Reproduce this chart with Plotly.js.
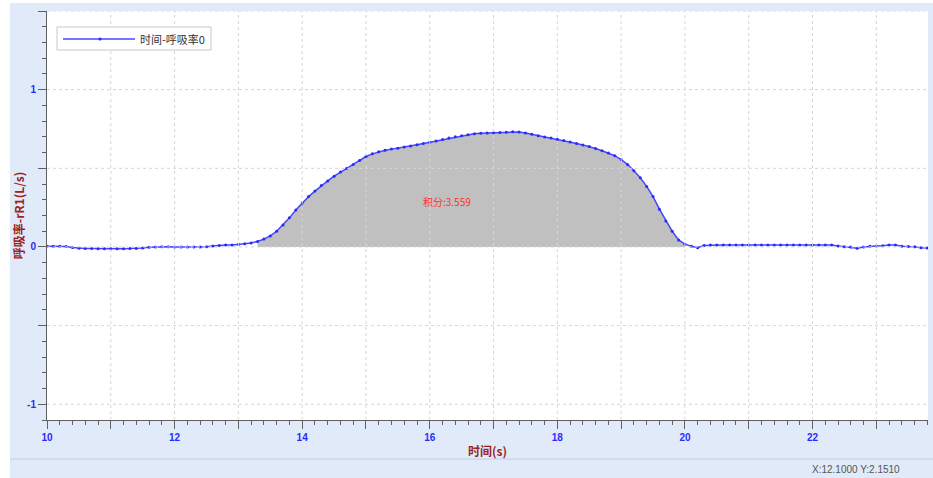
<!DOCTYPE html>
<html>
<head>
<meta charset="utf-8">
<script src="https://cdn.plot.ly/plotly-3.0.1.min.js"></script>
<style>
  html, body { margin: 0; padding: 0; background: #ffffff; }
  #chart { position: absolute; left: 10px; top: 3px; width: 923px; height: 475px; }
</style>
</head>
<body>
<div id="chart"></div>
<script>
// ---- data (time in s, rate in L/s), sampled every 0.1 s ----
const timeS = [
  10.0,10.1,10.2,10.3,10.4,10.5,10.6,10.7,10.8,10.9,
  11.0,11.1,11.2,11.3,11.4,11.5,11.6,11.7,11.8,11.9,
  12.0,12.1,12.2,12.3,12.4,12.5,12.6,12.7,12.8,12.9,
  13.0,13.1,13.2,13.3,13.4,13.5,13.6,13.7,13.8,13.9,
  14.0,14.1,14.2,14.3,14.4,14.5,14.6,14.7,14.8,14.9,
  15.0,15.1,15.2,15.3,15.4,15.5,15.6,15.7,15.8,15.9,
  16.0,16.1,16.2,16.3,16.4,16.5,16.6,16.7,16.8,16.9,
  17.0,17.1,17.2,17.3,17.4,17.5,17.6,17.7,17.8,17.9,
  18.0,18.1,18.2,18.3,18.4,18.5,18.6,18.7,18.8,18.9,
  19.0,19.1,19.2,19.3,19.4,19.5,19.6,19.7,19.8,19.9,
  20.0,20.1,20.2,20.3,20.4,20.5,20.6,20.7,20.8,20.9,
  21.0,21.1,21.2,21.3,21.4,21.5,21.6,21.7,21.8,21.9,
  22.0,22.1,22.2,22.3,22.4,22.5,22.6,22.7,22.8,22.9,
  23.0,23.1,23.2,23.3,23.4,23.5,23.6,23.7,23.8
];
const rateR1 = [
  0.005,0.005,0.005,0.003,-0.003,-0.008,-0.010,-0.010,-0.011,-0.011,
  -0.011,-0.011,-0.011,-0.010,-0.010,-0.006,-0.002,0.000,0.001,0.001,
  0.000,0.000,0.000,0.000,0.000,0.002,0.006,0.010,0.012,0.013,
  0.015,0.020,0.025,0.035,0.050,0.070,0.100,0.140,0.185,0.235,
  0.280,0.320,0.355,0.390,0.420,0.450,0.477,0.500,0.525,0.550,
  0.575,0.592,0.605,0.615,0.622,0.628,0.635,0.642,0.650,0.658,
  0.666,0.674,0.683,0.692,0.700,0.707,0.714,0.720,0.723,0.725,
  0.726,0.727,0.730,0.732,0.731,0.724,0.716,0.707,0.699,0.692,
  0.685,0.676,0.667,0.658,0.648,0.638,0.626,0.612,0.598,0.580,
  0.555,0.525,0.485,0.440,0.385,0.320,0.240,0.165,0.100,0.045,
  0.018,0.005,-0.005,0.010,0.012,0.013,0.013,0.013,0.013,0.013,
  0.013,0.013,0.013,0.013,0.013,0.013,0.013,0.013,0.013,0.013,
  0.013,0.013,0.013,0.013,0.006,0.002,0.000,-0.008,0.000,0.005,
  0.006,0.008,0.013,0.012,0.005,0.003,0.002,-0.005,-0.006
];
const integralStart = 13.3;
const integralEnd = 20.0;
const integralLabel = '积分:3.559';
const seriesName = '时间-呼吸率0';
const xTickVals = [10,11,12,13,14,15,16,17,18,19,20,21,22,23];
const xTickText = ['10','','12','','14','','16','','18','','20','','22',''];
const yTickVals = [-1,-0.5,0,0.5,1,1.5];
const yTickText = ['-1','','0','','1',''];
const statusText = 'X:12.1000 Y:2.1510';

// ---- build ----
const fillX = [], fillY = [];
timeS.forEach((t, i) => {
  if (t >= integralStart - 1e-9 && t <= integralEnd + 1e-9) { fillX.push(t); fillY.push(rateR1[i]); }
});

const xRange = [10, 23.81];
const yRange = [-1.1, 1.5];
const lineColor = '#4646ff';
const markerColor = '#2a2aff';

const traces = [
  { x: fillX, y: fillY, type: 'scatter', mode: 'lines', fill: 'tozeroy',
    fillcolor: '#c0c0c0', line: { width: 0, color: 'rgba(0,0,0,0)' }, showlegend: false, hoverinfo: 'skip' },
  { x: timeS, y: rateR1, type: 'scatter', mode: 'lines+markers', name: seriesName, showlegend: false,
    line: { color: lineColor, width: 1.5 }, marker: { color: markerColor, size: 3 } }
];

const shapes = [];
const gridStyle = { color: '#d6d6d6', width: 1, dash: '3px,3px' };
xTickVals.forEach(v => {
  if (v > xRange[0]) shapes.push({ type: 'line', layer: 'above', xref: 'x', yref: 'paper', x0: v, x1: v, y0: 0, y1: 1, line: gridStyle });
});
yTickVals.forEach(v => {
  shapes.push({ type: 'line', layer: 'above', xref: 'paper', yref: 'y', x0: 0, x1: 1, y0: v, y1: v, line: gridStyle });
});
// status bar separator
shapes.push({ type: 'line', layer: 'above', xref: 'paper', yref: 'paper', x0: -0.05, x1: 1.01, y0: -0.0954, y1: -0.0954,
  line: { color: '#c4cede', width: 1 } });
// legend box (drawn manually to match the long line sample)
const legY = 0.9315;
shapes.push({ type: 'rect', layer: 'above', xref: 'paper', yref: 'paper', x0: 0.0114, x1: 0.1862, y0: 0.9046, y1: 0.9609,
  fillcolor: '#ffffff', line: { color: '#c8c8c8', width: 1 } });
shapes.push({ type: 'line', layer: 'above', xref: 'paper', yref: 'paper', x0: 0.0182, x1: 0.0999, y0: legY, y1: legY,
  line: { color: lineColor, width: 1.5 } });
shapes.push({ type: 'circle', layer: 'above', xref: 'paper', yref: 'paper', xsizemode: 'pixel', ysizemode: 'pixel',
  xanchor: 0.0602, yanchor: legY, x0: -1.5, x1: 1.5, y0: -1.5, y1: 1.5, fillcolor: markerColor, line: { width: 0 } });

const tickFont = { family: 'Liberation Sans, Arial', size: 10, color: '#2a2aff', weight: 'bold' };
const axisCol = '#606060';

const layout = {
  width: 923, height: 475,
  margin: { l: 37, r: 5, t: 8, b: 58 },
  paper_bgcolor: '#e0eaf8',
  plot_bgcolor: '#ffffff',
  showlegend: false,
  xaxis: {
    range: xRange, tickmode: 'array', tickvals: xTickVals, ticktext: xTickText,
    showgrid: false, zeroline: false, showline: true, linecolor: axisCol, linewidth: 1,
    ticks: 'outside', ticklen: 8, tickcolor: axisCol, tickfont: tickFont,
    minor: { dtick: 0.2, tick0: 10, ticks: 'outside', ticklen: 4, tickcolor: axisCol, showgrid: false },
    title: { text: '时间(s)', font: { family: 'Noto Sans CJK SC', size: 12, color: '#9b2323', weight: 'bold' }, standoff: 5 }
  },
  yaxis: {
    range: yRange, tickmode: 'array', tickvals: yTickVals, ticktext: yTickText,
    showgrid: false, zeroline: false, showline: true, linecolor: axisCol, linewidth: 1,
    ticks: 'outside', ticklen: 8, tickcolor: axisCol, tickfont: tickFont,
    minor: { dtick: 0.1, tick0: 0, ticks: 'outside', ticklen: 4, tickcolor: axisCol, showgrid: false },
    title: { text: '呼吸率-rR1(L/s)', font: { family: 'Noto Sans CJK SC', size: 12, color: '#9b2323', weight: 'bold' }, standoff: 4 }
  },
  shapes: shapes,
  annotations: [
    { x: 16.27, y: 0.29, xref: 'x', yref: 'y', text: integralLabel, showarrow: false,
      font: { family: 'Noto Sans CJK SC', size: 10, color: '#ff3030' } },
    { x: 0.1033, y: legY, xref: 'paper', yref: 'paper', xanchor: 'left', yanchor: 'middle', text: seriesName, showarrow: false,
      font: { family: 'Noto Sans CJK SC', size: 11, color: '#333333' } },
    { x: 0.9705, y: -0.122, xref: 'paper', yref: 'paper', xanchor: 'right', yanchor: 'middle', text: statusText, showarrow: false,
      font: { family: 'Liberation Sans, Arial', size: 10, color: '#555555' } }
  ]
};

Plotly.newPlot('chart', traces, layout, { displayModeBar: false, staticPlot: true });
</script>
</body>
</html>
